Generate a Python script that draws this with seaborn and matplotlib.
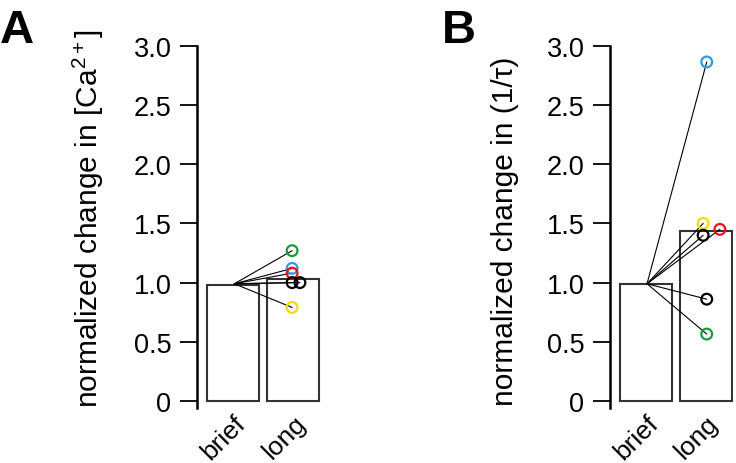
import numpy as np
import pandas as pd
import matplotlib
matplotlib.use("Agg")
import matplotlib.pyplot as plt
import matplotlib.transforms as mtransforms
import seaborn as sns

sns.set_style("ticks")
plt.rcParams['font.family'] = ['Liberation Sans', 'DejaVu Sans']
plt.rcParams['mathtext.fontset'] = 'custom'
plt.rcParams['mathtext.rm'] = 'Liberation Sans'
plt.rcParams['mathtext.it'] = 'Liberation Sans'
for k in ["text.color", "axes.labelcolor", "xtick.color", "ytick.color", "axes.edgecolor"]:
    plt.rcParams[k] = "black"

# bar heights (brief, long)
conditions = ["brief", "long"]
ca_bars = [0.98, 1.03]
tau_bars = [0.99, 1.435]

# individual cells, normalized to brief (=1)
cell_colors = ["#1a9a3c", "#2a9de0", "#e8141c", "#000000", "#000000", "#f0dc10"]
ca_long = [1.27, 1.12, 1.08, 1.00, 1.00, 0.79]
ca_jitter = [-0.02, -0.02, -0.02, -0.02, 0.11, -0.02]

tau_colors = ["#2a9de0", "#f0dc10", "#e8141c", "#000000", "#000000", "#1a9a3c"]
tau_long = [2.865, 1.50, 1.45, 1.40, 0.86, 0.565]
tau_jitter = [0.02, -0.04, 0.24, -0.04, 0.02, 0.02]

brief_level = 0.99

fig = plt.figure(figsize=(7.36, 4.64), dpi=100)
axA = fig.add_axes([197 / 736, 1 - 409 / 464, 124 / 736, 362 / 464])
axB = fig.add_axes([610 / 736, 1 - 409 / 464, 123 / 736, 362 / 464])


def panel(ax, bars, vals, jit, cols, ylabel, label_y):
    bdf = pd.DataFrame({"cond": conditions, "val": bars})
    sns.barplot(data=bdf, x="cond", y="val", order=conditions, color="white",
                edgecolor="#333333", linewidth=1.5, width=0.87, ax=ax, zorder=1)
    px = 1 + np.array(jit)
    for x, y in zip(px, vals):
        ax.plot([0.02, x], [brief_level, y], color="black", lw=0.8, zorder=2)
    pdf = pd.DataFrame({"x": px, "y": vals, "c": [str(i) for i in range(len(vals))]})
    sns.scatterplot(data=pdf, x="x", y="y", hue="c", palette=cols, ax=ax,
                    s=60, linewidth=1.6, legend=False, zorder=3)
    # hollow markers
    for coll in ax.collections:
        fc = coll.get_facecolors()
        if len(fc):
            coll.set_edgecolors(fc)
            coll.set_facecolors("none")
    ax.set_xlim(-0.6, 1.46)
    ax.set_ylim(-0.06, 3.0)
    ax.spines["left"].set_bounds(-0.06, 3.0)
    ax.set_yticks([0, 0.5, 1.0, 1.5, 2.0, 2.5, 3.0])
    ax.set_yticklabels(["0", "0.5", "1.0", "1.5", "2.0", "2.5", "3.0"], fontsize=19.5)
    ax.set_xticks([0, 1])
    ax.set_xticklabels(conditions, rotation=45, ha="right", rotation_mode="anchor",
                       fontsize=19)
    shift = mtransforms.ScaledTranslation(18 / 100, 8 / 100, fig.dpi_scale_trans)
    for lab in ax.get_xticklabels():
        lab.set_transform(lab.get_transform() + shift)
    ax.tick_params(axis="x", length=0, pad=2)
    ax.tick_params(axis="y", length=12.5, width=1.3, pad=6)
    ax.set_xlabel("")
    ax.set_ylabel(ylabel, fontsize=21.5, labelpad=20, y=label_y)
    for s in ["top", "right", "bottom"]:
        ax.spines[s].set_visible(False)
    ax.spines["left"].set_linewidth(1.8)


panel(axA, ca_bars, ca_long, ca_jitter, cell_colors,
      "normalized change in [Ca$^{2+}$]", 0.525)
panel(axB, tau_bars, tau_long, tau_jitter, tau_colors,
      "normalized change in (1/\u03c4)", 0.49)

fig.text(0.0, 1 - 43 / 464, "A", fontsize=34, fontweight="bold")
fig.text(442 / 736, 1 - 43 / 464, "B", fontsize=34, fontweight="bold")

fig.savefig("out.png", dpi=100)
